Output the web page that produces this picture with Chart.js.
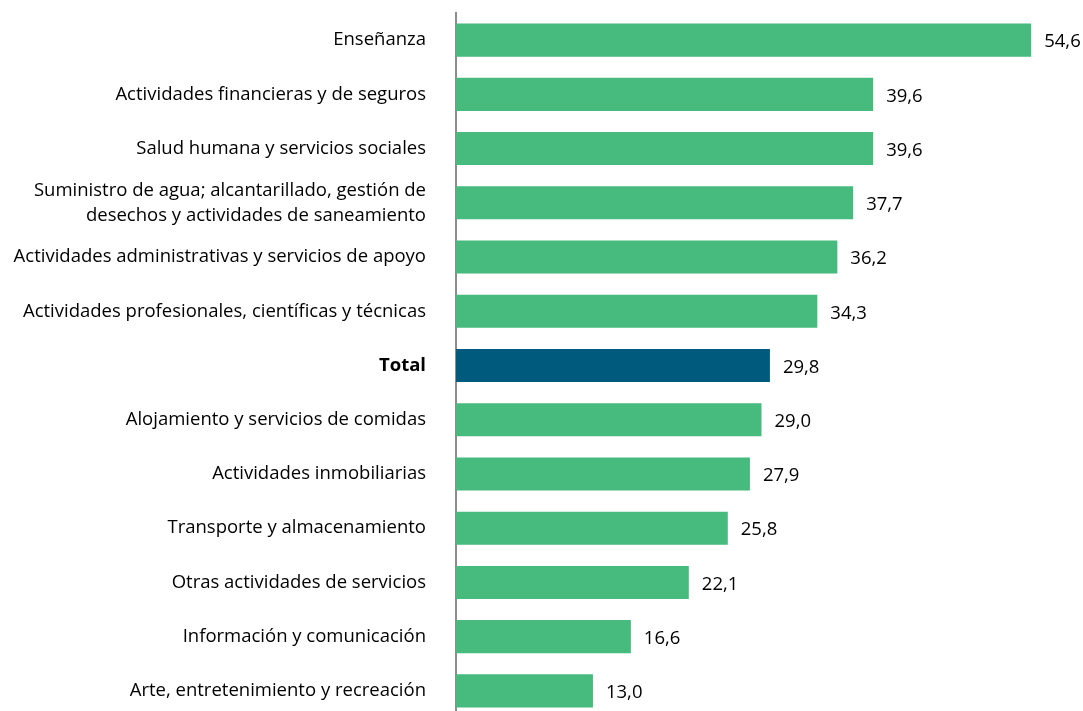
<!DOCTYPE html>
<html>
<head>
<meta charset="utf-8">
<script src="https://cdn.jsdelivr.net/npm/chart.js@4.4.1/dist/chart.umd.min.js"></script>
<style>
html,body{margin:0;padding:0;background:#fff;overflow:hidden;}
#wrap{position:relative;width:1083px;height:718px;}
</style>
</head>
<body>
<div id="wrap"><canvas id="c"></canvas></div>
<script>
const categories = [
  'Enseñanza',
  'Actividades financieras y de seguros',
  'Salud humana y servicios sociales',
  ['Suministro de agua; alcantarillado, gestión de', 'desechos y actividades de saneamiento'],
  'Actividades administrativas y servicios de apoyo',
  'Actividades profesionales, científicas y técnicas',
  'Total',
  'Alojamiento y servicios de comidas',
  'Actividades inmobiliarias',
  'Transporte y almacenamiento',
  'Otras actividades de servicios',
  'Información y comunicación',
  'Arte, entretenimiento y recreación'
];
const values = [54.6, 39.6, 39.6, 37.7, 36.2, 34.3, 29.8, 29.0, 27.9, 25.8, 22.1, 16.6, 13.0];
const highlightCategory = 'Total';

const GREEN = '#47BA7E';
const BLUE = '#005A7E';
const FONT = '"Open Sans", Lato, sans-serif';
const FONT_SIZE = 18.5;

const barColors = categories.map(c => c === highlightCategory ? BLUE : GREEN);

const valueLabels = {
  id: 'valueLabels',
  afterDatasetsDraw(chart) {
    const ctx = chart.ctx;
    const meta = chart.getDatasetMeta(0);
    ctx.save();
    ctx.font = FONT_SIZE + 'px ' + FONT;
    ctx.fillStyle = '#000';
    ctx.textAlign = 'left';
    ctx.textBaseline = 'middle';
    meta.data.forEach((bar, i) => {
      const txt = values[i].toFixed(1).replace('.', ',');
      ctx.fillText(txt, bar.x + 13, bar.y + 2);
    });
    ctx.restore();
  }
};

new Chart(document.getElementById('c'), {
  type: 'bar',
  data: {
    labels: categories,
    datasets: [{
      data: values,
      backgroundColor: barColors,
      borderWidth: 0,
      categoryPercentage: 1,
      barPercentage: 0.61
    }]
  },
  options: {
    indexAxis: 'y',
    responsive: true,
    maintainAspectRatio: false,
    animation: false,
    layout: { padding: { top: 13, right: 16, bottom: 0, left: 0 } },
    plugins: { legend: { display: false }, tooltip: { enabled: false } },
    scales: {
      x: {
        display: false,
        min: 0,
        max: 58
      },
      y: {
        grid: { display: false, drawTicks: false },
        border: { display: true, color: '#8c8c8c', width: 2 },
        afterFit(scale) { scale.width = 456; scale.paddingTop = 0; scale.paddingBottom = 0; },
        ticks: {
          padding: 30,
          color: '#000',
          font: (ctx) => ({
            family: FONT,
            size: FONT_SIZE,
            lineHeight: 1.35,
            weight: (ctx.tick && ctx.tick.label === highlightCategory) ? 'bold' : 'normal'
          })
        }
      }
    }
  },
  plugins: [valueLabels]
});
</script>
</body>
</html>
